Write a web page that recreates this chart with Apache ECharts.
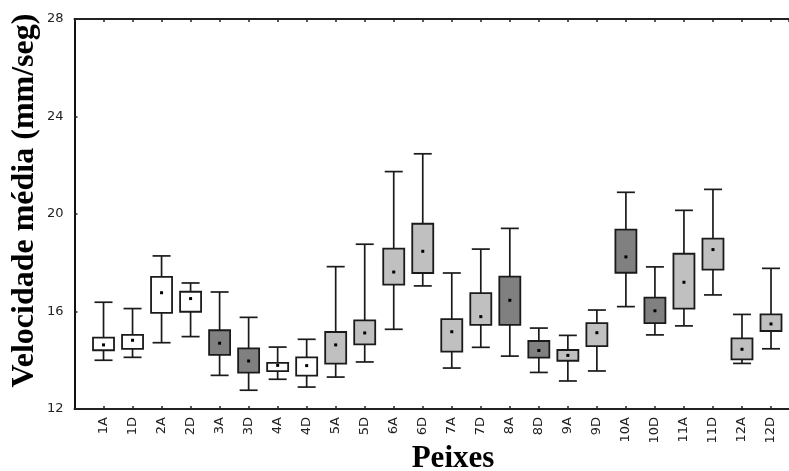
<!DOCTYPE html>
<html>
<head>
<meta charset="utf-8">
<script src="https://cdn.jsdelivr.net/npm/echarts@6/dist/echarts.min.js"></script>
<style>
html,body{margin:0;padding:0;background:#fff;}
#chart{width:789px;height:471px;}
</style>
</head>
<body>
<div id="chart"></div>
<script>
// Categories (fish)
var categories = ['1A','1D','2A','2D','3A','3D','4A','4D','5A','5D','6A','6D','7A','7D','8A','8D','9A','9D','10A','10D','11A','11D','12A','12D'];
// whisker low / box low / centre point / box high / whisker high
var whiskerLow = [14.00,14.12,14.72,14.97,13.38,12.77,13.22,12.90,13.31,13.93,15.27,17.05,13.68,14.53,14.17,13.50,13.15,13.56,16.20,15.04,15.41,16.68,13.87,14.47];
var boxLow     = [14.41,14.47,15.94,15.99,14.22,13.49,13.55,13.37,13.86,14.65,17.10,17.58,14.35,15.45,15.45,14.11,13.98,14.58,17.59,15.52,16.12,17.72,14.04,15.20];
var centre     = [14.63,14.82,16.77,16.53,14.70,13.97,13.79,13.78,14.63,15.12,17.62,18.47,15.17,15.79,16.46,14.40,14.20,15.13,18.24,16.03,17.20,18.54,14.45,15.49];
var boxHigh    = [14.93,15.04,17.42,16.81,15.23,14.49,13.89,14.12,15.16,15.64,18.58,19.60,15.69,16.75,17.43,14.79,14.42,15.52,19.36,16.57,18.37,18.99,14.90,15.88];
var whiskerHigh= [16.38,16.12,18.28,17.17,16.80,15.76,14.54,14.86,17.84,18.76,21.74,22.47,17.58,18.56,19.41,15.32,15.02,16.06,20.89,17.83,20.15,21.01,15.88,17.77];
// fill group: 0 = white, 1 = light grey, 2 = dark grey
var fillGroup  = [0,0,0,0,2,2,0,0,1,1,1,1,1,1,2,2,1,1,2,2,1,1,1,1];
var yTicks = [12,16,20,24,28];

var fills = ['#ffffff','#c0c0c0','#808080'];
var data = categories.map(function(c,i){
  return [i, whiskerLow[i], boxLow[i], centre[i], boxHigh[i], whiskerHigh[i], fillGroup[i]];
});
function catLabel(v){
  var i = Math.round(v);
  return (Math.abs(v - i) < 1e-6 && i >= 0 && i < categories.length) ? categories[i] : '';
}

var chart = echarts.init(document.getElementById('chart'), null, {renderer:'canvas'});
var lineCol = '#1a1a1a';
var xMin = -1, xMax = 23.62;
chart.setOption({
  animation:false,
  backgroundColor:'#ffffff',
  grid:{left:74.5, top:19, bottom:62, right:0, containLabel:false},
  xAxis:[{
    type:'value', min:xMin, max:xMax, interval:1, position:'bottom',
    axisLine:{show:true, onZero:false, lineStyle:{color:'#222', width:2}},
    axisTick:{show:true, inside:true, length:3, lineStyle:{color:'#222', width:1.5}},
    axisLabel:{rotate:90, margin:8, fontFamily:'DejaVu Sans', fontSize:13, color:'#222', formatter:catLabel, showMinLabel:false, showMaxLabel:false},
    splitLine:{show:false}
  },{
    type:'value', min:xMin, max:xMax, interval:1, position:'top',
    axisLine:{show:true, onZero:false, lineStyle:{color:'#222', width:2}},
    axisTick:{show:true, inside:true, length:3, lineStyle:{color:'#222', width:1.5}},
    axisLabel:{show:false}, splitLine:{show:false}
  }],
  yAxis:{
    type:'value', min:yTicks[0], max:yTicks[yTicks.length-1], interval:4,
    axisLine:{show:true, onZero:false, lineStyle:{color:'#111', width:2}},
    axisTick:{show:true, inside:true, length:3, lineStyle:{color:'#222', width:1.5}},
    axisLabel:{margin:11, fontFamily:'DejaVu Sans', fontSize:13, color:'#222'},
    splitLine:{show:false}
  },
  graphic:[{
    type:'text', x:25, y:200.5, rotation:Math.PI/2,
    style:{text:'Velocidade média (mm/seg)', font:'bold 32px "Liberation Serif"', fill:'#000', textAlign:'center', textVerticalAlign:'middle'}
  },{
    type:'text', x:453, y:459,
    style:{text:'Peixes', font:'bold 31px "Liberation Serif"', fill:'#000', textAlign:'center', textVerticalAlign:'middle'}
  }],
  series:[{
    type:'custom',
    xAxisIndex:0, yAxisIndex:0,
    data:data,
    encode:{x:0, y:[1,2,3,4,5]},
    renderItem:function(params, api){
      var x = api.value(0);
      var pLow = api.coord([x, api.value(1)]);
      var pQ1 = api.coord([x, api.value(2)]);
      var pMid = api.coord([x, api.value(3)]);
      var pQ3 = api.coord([x, api.value(4)]);
      var pHigh = api.coord([x, api.value(5)]);
      var cx = pMid[0];
      var bw = 21, cw = 18;
      var fill = fills[api.value(6)];
      var ls = {stroke:lineCol, lineWidth:1.7};
      return {
        type:'group',
        children:[
          {type:'line', shape:{x1:cx, y1:pHigh[1], x2:cx, y2:pQ3[1]}, style:ls},
          {type:'line', shape:{x1:cx, y1:pQ1[1], x2:cx, y2:pLow[1]}, style:ls},
          {type:'line', shape:{x1:cx-cw/2, y1:pHigh[1], x2:cx+cw/2, y2:pHigh[1]}, style:ls},
          {type:'line', shape:{x1:cx-cw/2, y1:pLow[1], x2:cx+cw/2, y2:pLow[1]}, style:ls},
          {type:'rect', shape:{x:cx-bw/2, y:pQ3[1], width:bw, height:pQ1[1]-pQ3[1]}, style:{fill:fill, stroke:lineCol, lineWidth:1.8}},
          {type:'rect', shape:{x:cx-1.5, y:pMid[1]-1.5, width:3, height:3}, style:{fill:'#000'}}
        ]
      };
    }
  }]
});
</script>
</body>
</html>
